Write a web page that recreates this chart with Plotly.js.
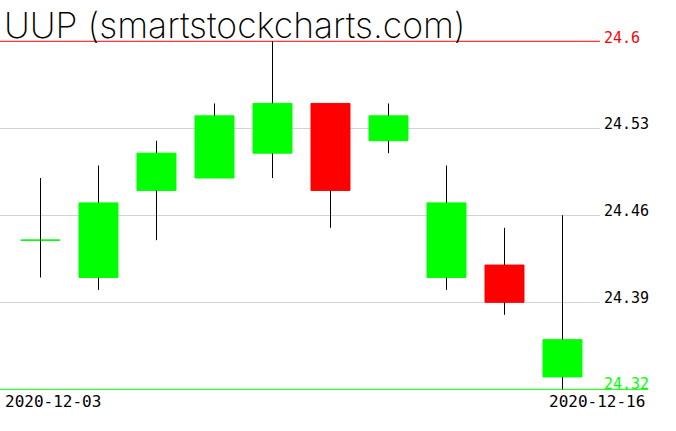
<!DOCTYPE html>
<html>
<head>
<meta charset="utf-8">
<script src="https://cdn.plot.ly/plotly-3.0.1.min.js"></script>
<style>html,body{margin:0;padding:0;background:#fff;}#chart{width:676px;height:431px;}</style>
</head>
<body>
<div id="chart"></div>
<script>
var dates = ["2020-12-03","2020-12-04","2020-12-07","2020-12-08","2020-12-09","2020-12-10","2020-12-11","2020-12-14","2020-12-15","2020-12-16"];
var open  = [24.44, 24.41, 24.48, 24.49, 24.51, 24.55, 24.52, 24.41, 24.42, 24.33];
var high  = [24.49, 24.50, 24.52, 24.55, 24.60, 24.55, 24.55, 24.50, 24.45, 24.46];
var low   = [24.41, 24.40, 24.44, 24.49, 24.49, 24.45, 24.51, 24.40, 24.38, 24.32];
var close = [24.44, 24.47, 24.51, 24.54, 24.55, 24.48, 24.54, 24.47, 24.39, 24.36];
var gridTicks = [24.39, 24.46, 24.53];
var titleText = "UUP (smartstockcharts.com)";

var maxHigh = Math.max.apply(null, high);
var minLow = Math.min.apply(null, low);

var bodyHigh = open.map(function(o, i){ return Math.max(o, close[i]); });
var bodyLow = open.map(function(o, i){ return Math.min(o, close[i]); });

// wick segments (upper and lower shadows only)
var wx = [], wy = [];
for (var i = 0; i < dates.length; i++) {
  if (high[i] > bodyHigh[i]) { wx.push(dates[i], dates[i], null); wy.push(high[i], bodyHigh[i], null); }
  if (low[i] < bodyLow[i]) { wx.push(dates[i], dates[i], null); wy.push(bodyLow[i], low[i], null); }
}

var traces = [
  {type: "candlestick", x: dates, open: open, high: bodyHigh, low: bodyLow, close: close,
   increasing: {line: {color: "#00ff00", width: 1}, fillcolor: "#00ff00"},
   decreasing: {line: {color: "#ff0000", width: 1}, fillcolor: "#ff0000"},
   whiskerwidth: 0, hoverinfo: "skip", showlegend: false},
  {type: "scatter", mode: "lines", x: wx, y: wy, line: {color: "#000000", width: 1}, hoverinfo: "skip", showlegend: false, connectgaps: false}
];

var annotations = gridTicks.map(function(v){
  return {xref: "paper", yref: "y", x: 1, y: v, xanchor: "left", yanchor: "middle", xshift: 2, yshift: 4,
          text: v.toFixed(2), showarrow: false, font: {family: "DejaVu Sans Mono", size: 15, color: "#000000"}};
});
annotations.push({xref: "paper", yref: "y", x: 1, y: maxHigh, xanchor: "left", yanchor: "middle", xshift: 2, yshift: 3,
  text: String(maxHigh), showarrow: false, font: {family: "DejaVu Sans Mono", size: 15, color: "#ff0000"}});
annotations.push({xref: "paper", yref: "y", x: 1, y: minLow, xanchor: "left", yanchor: "middle", xshift: 2, yshift: 5,
  text: String(minLow), showarrow: false, font: {family: "DejaVu Sans Mono", size: 15, color: "#00ff00"}});
annotations.push({xref: "paper", yref: "paper", x: 3/600, y: 1 - 401/431, xanchor: "left", yanchor: "middle",
  text: dates[0], showarrow: false, font: {family: "DejaVu Sans Mono", size: 16, color: "#000000"}});
annotations.push({xref: "paper", yref: "paper", x: 647/600, y: 1 - 401/431, xanchor: "right", yanchor: "middle",
  text: dates[dates.length-1], showarrow: false, font: {family: "DejaVu Sans Mono", size: 16, color: "#000000"}});

var layout = {
  width: 676, height: 431,
  margin: {l: 0, r: 76, t: 0, b: 0, pad: 0},
  paper_bgcolor: "#ffffff", plot_bgcolor: "#ffffff",
  showlegend: false,
  boxgap: 0.328,
  boxgroupgap: 0,
  title: {text: titleText, x: 4/676, xanchor: "left", xref: "container", y: 1 - 13/431, yanchor: "top", yref: "container",
          font: {family: "Inter", size: 35.5, color: "#000000", weight: 200}, pad: {t: 0, l: 0, r: 0, b: 0}},
  xaxis: {type: "category", range: [-0.6983, 9.6465], showgrid: false, showticklabels: false, zeroline: false,
          showline: false, ticks: "", rangeslider: {visible: false}, fixedrange: true},
  yaxis: {range: [24.2865, 24.6332], tickvals: gridTicks, showticklabels: false, showgrid: true,
          gridcolor: "#d3d3d3", gridwidth: 1, zeroline: false, showline: false, ticks: "", fixedrange: true},
  shapes: [
    {type: "line", xref: "paper", yref: "y", x0: 0, x1: 1, y0: maxHigh, y1: maxHigh, line: {color: "#ff0000", width: 1}, layer: "below"},
    {type: "line", xref: "paper", yref: "y", x0: 0, x1: 648/600, y0: minLow, y1: minLow, line: {color: "#00ff00", width: 1}, layer: "below"}
  ],
  annotations: annotations
};

Plotly.newPlot("chart", traces, layout, {staticPlot: true, displayModeBar: false});
</script>
</body>
</html>
